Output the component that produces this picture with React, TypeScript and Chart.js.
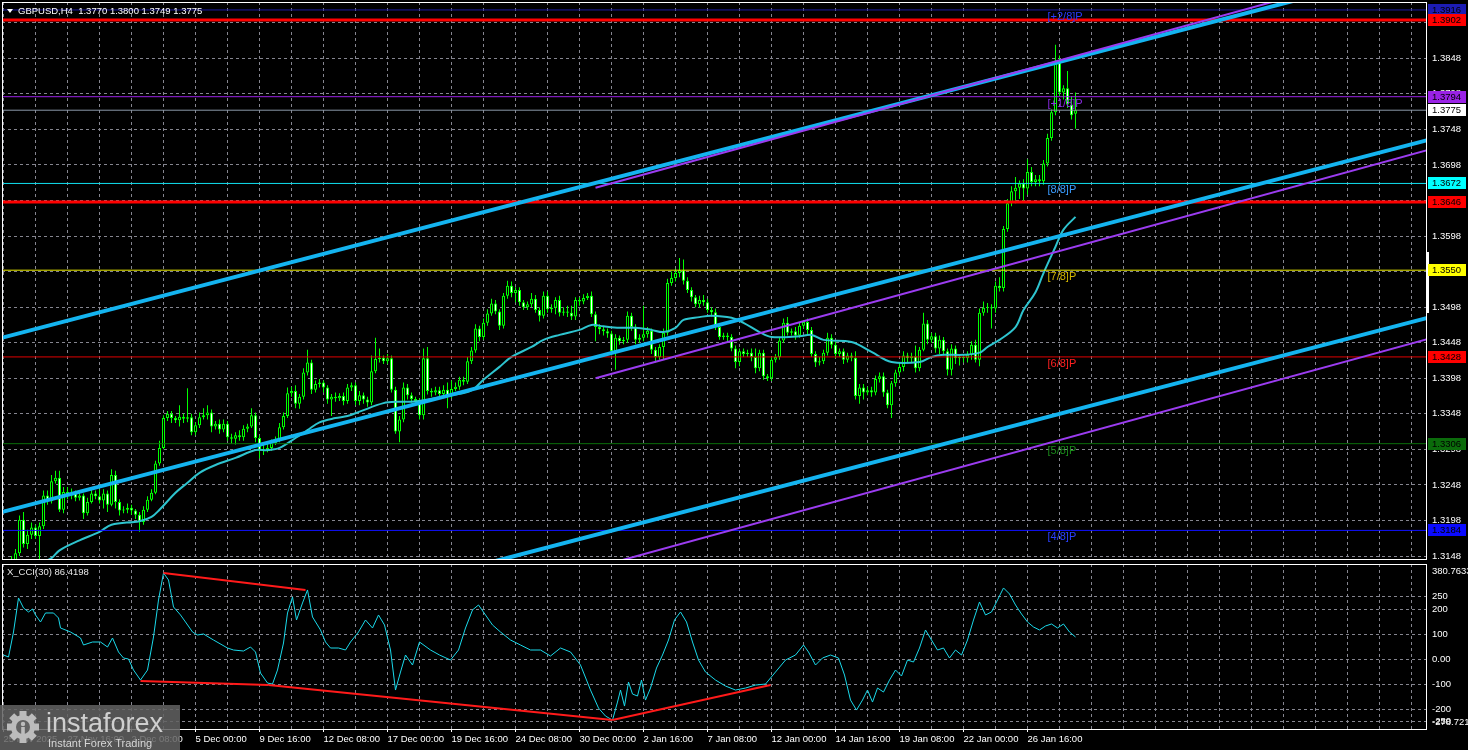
import { useEffect, useRef } from 'react';
import { Chart, registerables } from 'chart.js';

Chart.register(...registerables);

// Candle values are in pips above 1.3000 (e.g. 775 -> 1.3775)
const PRICE_BASE = 1.3;
const PIP = 0.0001;

const opens = [
  120,128,132,140,152,199,165,178,188,176,
  190,233,225,253,258,213,238,233,237,230,
  233,208,224,236,232,226,236,220,262,224,
  212,213,216,212,206,196,213,227,237,278,
  300,342,348,342,339,344,341,343,322,332,
  343,346,350,330,334,326,334,315,313,318,
  315,327,330,346,314,296,298,300,307,311,
  329,345,377,380,362,372,406,420,382,390,
  392,385,368,372,370,373,366,385,388,366,
  374,368,364,408,425,427,422,426,382,323,
  340,385,374,369,366,346,426,380,378,381,
  376,382,374,383,386,396,393,422,437,468,
  456,476,489,503,492,472,514,528,518,522,
  505,498,502,510,494,486,514,495,497,508,
  490,492,490,485,508,506,511,514,488,470,
  467,464,461,436,455,450,452,486,470,452,
  455,460,465,438,428,442,462,532,539,546,
  550,535,522,512,502,508,505,494,491,470,
  456,458,456,440,421,436,432,434,428,412,
  434,401,398,424,428,451,476,462,464,458,
  472,477,466,432,420,422,434,455,445,432,
  436,424,430,427,373,385,378,381,378,397,
  401,378,360,391,406,414,430,426,429,412,
  438,475,452,457,440,452,436,410,440,426,
  428,426,431,445,424,490,497,498,496,528,
  525,608,644,661,666,672,665,688,674,678,
  675,700,736,772,845,800,806,783,770,
];
const highs = [
  135,140,148,158,205,210,185,195,192,195,
  240,240,262,268,268,245,245,243,240,238,
  236,230,245,240,242,242,240,270,268,228,
  218,222,220,214,210,218,232,242,282,310,
  346,352,352,345,360,348,384,348,336,350,
  356,360,354,338,340,340,338,320,322,325,
  332,334,356,350,318,305,306,312,316,335,
  350,385,386,388,376,412,438,424,395,397,
  395,388,376,378,377,378,390,392,392,380,
  378,372,430,455,440,430,432,430,386,345,
  392,390,378,372,370,440,442,384,386,386,
  388,392,395,392,400,400,428,442,474,472,
  482,495,510,508,495,518,535,534,526,526,
  508,506,518,515,498,520,520,502,512,514,
  498,500,500,512,512,516,518,520,492,474,
  470,468,465,460,458,456,492,490,474,460,
  500,470,468,442,446,468,538,548,552,567,
  565,540,526,515,514,515,510,498,496,472,
  462,462,460,444,440,440,438,440,440,438,
  438,404,428,432,456,482,484,468,470,476,
  480,482,470,436,428,438,462,460,450,440,
  440,434,434,436,390,390,386,386,402,406,
  406,382,394,410,420,436,434,434,444,442,
  490,480,462,462,458,456,440,446,444,432,
  432,436,450,452,496,506,504,502,534,540,
  612,650,668,681,676,678,706,695,684,684,
  705,742,776,867,852,810,830,795,800,
];
const lows = [
  112,120,126,135,148,160,158,172,172,142,
  186,220,222,250,210,208,228,228,225,226,
  200,205,222,228,222,215,210,218,215,205,
  208,208,206,200,182,192,210,225,235,275,
  298,338,335,335,330,335,336,318,318,328,
  340,340,322,326,320,322,310,306,305,310,
  310,322,328,308,285,290,294,296,304,308,
  326,342,372,356,355,368,402,376,378,385,
  378,362,345,365,366,360,362,380,360,360,
  362,358,360,405,420,418,418,378,320,308,
  336,368,364,360,340,340,375,372,374,372,
  370,356,370,380,382,388,390,418,434,450,
  452,472,486,488,466,468,510,512,505,500,
  494,494,498,490,478,482,490,490,488,485,
  486,484,480,480,500,502,508,484,450,460,
  458,455,430,410,445,446,448,465,446,448,
  450,455,432,420,424,425,458,528,534,540,
  530,518,506,498,497,500,490,485,466,452,
  452,450,436,412,415,428,428,422,405,408,
  396,394,394,420,424,448,458,458,452,455,
  468,460,428,414,416,418,430,440,426,428,
  418,420,422,368,362,368,374,372,374,392,
  372,356,342,386,402,408,420,420,406,408,
  436,446,448,434,432,430,402,402,418,416,
  420,420,424,420,415,486,490,468,490,520,
  520,604,640,644,650,646,656,668,668,668,
  670,696,732,768,795,790,778,762,749,
];
const closes = [
  128,132,140,152,199,165,178,188,176,190,
  233,225,253,258,213,238,233,237,230,233,
  208,224,236,232,226,236,220,262,224,212,
  213,216,212,206,196,213,227,237,278,300,
  342,348,342,339,344,341,343,322,332,343,
  346,350,330,334,326,334,315,313,318,315,
  327,330,346,314,296,298,300,307,311,329,
  345,377,380,362,372,406,420,382,390,392,
  385,368,372,370,373,366,385,388,366,374,
  368,364,408,425,427,422,426,382,323,340,
  385,374,369,366,346,426,380,378,381,376,
  382,374,383,386,396,393,422,437,468,456,
  476,489,503,492,472,514,528,518,522,505,
  498,502,510,494,486,514,495,497,508,490,
  492,490,485,508,506,511,514,488,470,467,
  464,461,436,455,450,452,486,470,452,455,
  460,465,438,428,442,462,532,539,546,550,
  535,522,512,502,508,505,494,491,470,456,
  458,456,440,421,436,432,434,428,412,434,
  401,398,424,428,451,476,462,464,458,472,
  477,466,432,420,422,434,455,445,432,436,
  424,430,427,373,385,378,381,378,397,401,
  378,360,391,406,414,430,426,429,412,438,
  475,452,457,440,452,436,410,440,426,428,
  426,431,445,424,490,497,498,496,528,525,
  608,644,661,666,672,665,688,674,678,675,
  700,736,772,845,800,806,783,768,775,
];

// Moving average: [bar index, pips above 1.3000]
const maPoints = [
  [8,135],[12,145],[14,156],[19,170],[24,182],[27,192],[34,197],[37,203],[39,213],[43,237],
  [46,251],[49,265],[53,276],[58,286],[63,297],[66,297],[69,300],[73,314],[76,325],[79,336],
  [83,342],[86,345],[89,351],[95,363],[99,365],[102,365],[105,367],[112,374],[117,381],[120,396],
  [124,414],[127,428],[132,442],[135,452],[139,459],[144,466],[147,473],[150,471],[154,469],[158,469],
  [162,466],[165,463],[168,469],[170,480],[174,484],[177,486],[182,483],[185,476],[189,463],[192,456],
  [199,457],[202,459],[205,452],[212,449],[217,435],[222,421],[229,421],[232,428],[235,431],[240,431],
  [244,434],[246,442],[249,452],[253,470],[255,494],[258,519],[260,546],[263,583],[265,607],[268,625],
];

// CCI(30): [bar index, value]
const cciPoints = [
  [0,17],[1.25,9],[2.5,109],[3.75,245],[5,205],[6.25,189],[7.25,201],[8,177],[9.25,149],[10.5,185],
  [12.5,185],[13.75,165],[14.25,125],[16.75,109],[19.25,85],[20,57],[22.25,69],[24.25,69],[26,49],[27.25,85],
  [28.75,29],[30,5],[31.25,1],[32.5,-43],[34.25,-83],[36,-43],[37.5,89],[38.75,237],[40,345],[41.25,317],
  [42.5,209],[44.25,177],[45.5,149],[47.25,109],[48.5,97],[50,101],[52.5,77],[56,45],[57.5,37],[60,33],
  [61.75,49],[63,29],[64.25,-55],[66,-95],[67.25,-99],[68.5,-43],[70,65],[71,185],[72.25,249],[73.25,157],
  [74.75,225],[76,277],[77.25,169],[79.25,117],[80.5,69],[81.75,45],[83.75,45],[85.5,37],[86.75,69],[88.75,109],
  [90.5,157],[92.25,125],[93.75,177],[95.25,137],[96.75,37],[98,-123],[99.25,-51],[100.5,17],[102.25,-23],[104,69],
  [106.75,37],[109,17],[111.75,-3],[113.75,37],[115.5,125],[117.25,197],[118.75,217],[120.5,177],[122.25,137],[124.25,109],
  [126.75,77],[129.25,57],[131.75,37],[134.25,37],[136.75,13],[139.25,45],[141.75,29],[144.25,-23],[146.75,-123],[148.75,-195],
  [150.5,-227],[152.25,-243],[153.5,-171],[154.25,-123],[155.25,-187],[156.25,-91],[157.25,-139],[158.5,-147],[159.5,-83],[160.5,-163],
  [161.75,-115],[163.25,-35],[164.75,17],[166.25,77],[167.75,157],[169.25,189],[170.75,149],[172.25,69],[173.75,-3],[175.5,-51],
  [178,-83],[180.5,-107],[183,-123],[185.5,-115],[188,-103],[190.5,-99],[193,-51],[195.5,-3],[198,17],[200,57],
  [201.25,29],[203,-23],[204.75,5],[206.75,17],[208.75,5],[210.25,-63],[211.75,-163],[213.25,-203],[214.75,-163],[216,-123],
  [217.25,-171],[218.5,-115],[220,-131],[221.5,-83],[223,-43],[224.5,-67],[226,-3],[227.5,-11],[229,45],[230.5,117],
  [232,77],[233.5,37],[235,45],[236.5,5],[238,37],[239.5,17],[241,77],[242.5,157],[244,229],[245.5,177],
  [247,189],[248.5,237],[250,285],[251.5,261],[253,217],[254.5,181],[256,149],[257.5,129],[259,117],[260.5,133],
  [262,141],[263.5,125],[265,141],[266.5,109],[268,89],
];

const xTickLabels = [
  '25 Nov 2025','27 Nov 16:00','2 Dec 08:00','5 Dec 00:00','9 Dec 16:00','12 Dec 08:00',
  '17 Dec 00:00','19 Dec 16:00','24 Dec 08:00','30 Dec 00:00','2 Jan 16:00','7 Jan 08:00',
  '12 Jan 00:00','14 Jan 16:00','19 Jan 08:00','22 Jan 00:00','26 Jan 16:00',
];
const priceTicks = [
  1.3148,1.3198,1.3248,1.3298,1.3348,1.3398,1.3448,1.3498,
  1.3548,1.3598,1.3648,1.3698,1.3748,1.3798,1.3848,1.3898,
];
const cciTicks = [250, 200, 100, 0, -100, -200, -250];
const CCI_MAX = 380.7633;
const CCI_MIN = -278.7219;

const levelPrices = [1.3916, 1.3902, 1.3794, 1.3775, 1.3672, 1.3646, 1.3550, 1.3428, 1.3306, 1.3184];
const murreyLabels = ['[+2/8]P', '[+1/8]P', '[8/8]P', '[7/8]P', '[6/8]P', '[5/8]P', '[4/8]P'];
const murreyPrices = [1.3916, 1.3794, 1.3672, 1.3550, 1.3428, 1.3306, 1.3184];

// trend lines: [[bar, pips], [bar, pips]]
const blueChannels = [
  [[-1, 454], [356, 978]],
  [[-1, 209], [356, 733]],
  [[-1, -41], [356, 483]],
];
const purpleLines = [
  [[148, 666], [330, 947]],
  [[148, 398], [356, 719]],
  [[148, 132], [356, 453]],
];
// CCI trend lines: [[bar, cci], [bar, cci]]
const cciTrendLines = [
  [[40, 345], [75.5, 277]],
  [[34.25, -87], [66.25, -103]],
  [[66.25, -103], [152.25, -243]],
  [[152.25, -243], [191.75, -103]],
];

const HEADER = 'GBPUSD,H4  1.3770 1.3800 1.3749 1.3775';
const CCI_TITLE = 'X_CCI(30) 86.4198';

// ---------- styles ----------
const FONT = '"Liberation Sans", Arial, sans-serif';
const GRID = '#85858f';
const LIME = '#00ff00';
const X_MIN = -0.375;
const X_MAX = 355.625;
const Y_MIN = 1.31438;
const Y_MAX = 1.39272;
const MURREY_LABEL_BAR = 261;
const LEVEL_STYLES = [
  { line: '#1a1aa0', w: 1, box: '#1c1cb4', text: '#000000' },
  { line: '#ff0000', w: 3, box: '#ff0000', text: '#000000' },
  { line: '#9a22e6', w: 1, box: '#9a22e6', text: '#000000' },
  { line: '#8a98a8', w: 1, box: '#ffffff', text: '#000000' },
  { line: '#10e0f0', w: 1, box: '#00ffff', text: '#000000' },
  { line: '#ff0000', w: 3, box: '#ff0000', text: '#000000' },
  { line: '#f0f000', w: 1, box: '#ffff00', text: '#000000' },
  { line: '#e00000', w: 1, box: '#ff0000', text: '#000000' },
  { line: '#0a6e0a', w: 1, box: '#0b6b0b', text: '#000000' },
  { line: '#1010ff', w: 1, box: '#0a0aff', text: '#000000' },
];
const MURREY_COLORS = ['#2a3cff', '#8a2be2', '#3a9cff', '#d2b400', '#ff2020', '#1a8a1a', '#2a40ff'];

const toPrice = (p: number) => PRICE_BASE + p * PIP;
const gridBars: number[] = [];
for (let v = 0; v <= 352; v += 8) gridBars.push(v);

const noPad = (s: any) => {
  s.paddingTop = 0;
  s.paddingBottom = 0;
  s.paddingLeft = 0;
  s.paddingRight = 0;
};

const mainOverlay = {
  id: 'mainOverlay',
  afterDraw(chart: any) {
    const { ctx, chartArea: a, scales } = chart;
    const x = scales.x;
    const y = scales.y;
    ctx.save();
    ctx.font = `11px ${FONT}`;
    ctx.textAlign = 'left';
    ctx.textBaseline = 'middle';
    murreyLabels.forEach((t, k) => {
      ctx.fillStyle = MURREY_COLORS[k];
      ctx.fillText(t, x.getPixelForValue(MURREY_LABEL_BAR), y.getPixelForValue(murreyPrices[k]) + 7);
    });
    ctx.strokeStyle = '#ffffff';
    ctx.lineWidth = 1;
    ctx.strokeRect(a.left + 0.5, a.top + 0.5, a.right - a.left, a.bottom - a.top);
    ctx.fillStyle = '#ffffff';
    ctx.fillRect(a.right, 252, 3, 61);
    ctx.font = `9.5px ${FONT}`;
    levelPrices.forEach((p, k) => {
      const py = Math.round(y.getPixelForValue(p));
      const top = Math.max(py - 6, 1);
      ctx.fillStyle = LEVEL_STYLES[k].box;
      ctx.fillRect(a.right + 2, top, 38, 12);
      ctx.fillStyle = LEVEL_STYLES[k].text;
      ctx.fillText(p.toFixed(4), a.right + 6, top + 6.5);
    });
    ctx.fillStyle = '#ffffff';
    ctx.beginPath();
    ctx.moveTo(7, 9);
    ctx.lineTo(13, 9);
    ctx.lineTo(10, 13);
    ctx.closePath();
    ctx.fill();
    ctx.font = `9.5px ${FONT}`;
    ctx.fillText(HEADER, 18, 11);
    ctx.restore();
  },
};

const cciOverlay = {
  id: 'cciOverlay',
  afterDraw(chart: any) {
    const { ctx, chartArea: a } = chart;
    ctx.save();
    ctx.strokeStyle = '#ffffff';
    ctx.lineWidth = 1;
    ctx.strokeRect(a.left + 0.5, a.top + 0.5, a.right - a.left, a.bottom - a.top);
    ctx.font = `9.5px ${FONT}`;
    ctx.textAlign = 'left';
    ctx.textBaseline = 'middle';
    ctx.fillStyle = '#e6e6e6';
    ctx.fillText(CCI_TITLE, 7, 10);
    ctx.fillStyle = '#ffffff';
    ctx.fillText(CCI_MAX.toFixed(4), a.right + 6, 9);
    ctx.fillText(CCI_MIN.toFixed(4), a.right + 6, 160);
    // logo
    ctx.fillStyle = 'rgba(98,98,98,0.86)';
    ctx.fillRect(0, 143, 180, 45);
    const cx = 23, cy = 165;
    ctx.fillStyle = '#bcbcbc';
    for (let k = 0; k < 8; k++) {
      ctx.save();
      ctx.translate(cx, cy);
      ctx.rotate((k * Math.PI) / 4);
      ctx.fillRect(-3.5, -16, 7, 8);
      ctx.restore();
    }
    ctx.beginPath();
    ctx.arc(cx, cy, 12, 0, Math.PI * 2);
    ctx.fill();
    ctx.fillStyle = '#626262';
    ctx.beginPath();
    ctx.arc(cx, cy, 7, 0, Math.PI * 2);
    ctx.fill();
    ctx.fillStyle = '#bcbcbc';
    ctx.beginPath();
    ctx.arc(cx, cy - 3, 2.2, 0, Math.PI * 2);
    ctx.fill();
    ctx.fillRect(cx - 1.8, cy, 3.6, 9);
    ctx.fillStyle = '#cfcfcf';
    ctx.font = `27px ${FONT}`;
    ctx.textBaseline = 'alphabetic';
    ctx.fillText('instaforex', 46, 170);
    ctx.font = `11px ${FONT}`;
    ctx.fillStyle = '#d6d6d6';
    ctx.fillText('Instant Forex Trading', 48, 185);
    ctx.restore();
  },
};

const lineDs = (pts: number[][], color: string, width: number, order: number, conv: (v: number) => number) => ({
  type: 'line',
  data: pts.map((p) => ({ x: p[0], y: conv(p[1]) })),
  borderColor: color,
  backgroundColor: color,
  borderWidth: width,
  pointRadius: 0,
  tension: 0,
  fill: false,
  clip: 0,
  order,
});

export default function App() {
  const mainRef = useRef<HTMLCanvasElement>(null);
  const cciRef = useRef<HTMLCanvasElement>(null);

  useEffect(() => {
    document.body.style.margin = '0';
    document.body.style.background = '#000';
    const bars = closes.map((_, i) => i);
    const priceScaleX = {
      type: 'linear',
      min: X_MIN,
      max: X_MAX,
      offset: false,
      afterBuildTicks: (s: any) => {
        s.ticks = gridBars.map((v) => ({ value: v }));
      },
    };

    const datasets: any[] = [];
    levelPrices.forEach((p, k) => {
      datasets.push(lineDs([[X_MIN - 1, p], [X_MAX + 1, p]], LEVEL_STYLES[k].line, LEVEL_STYLES[k].w, 20, (v) => v));
    });
    datasets.push({
      type: 'bar',
      data: bars.map((i) => ({ x: i, y: [toPrice(lows[i]), toPrice(highs[i])] })),
      backgroundColor: LIME,
      borderWidth: 0,
      barThickness: 1,
      grouped: false,
      inflateAmount: 0,
      clip: 0,
      order: 40,
    });
    datasets.push({
      type: 'bar',
      data: bars.map((i) => ({ x: i, y: [toPrice(opens[i]), toPrice(closes[i])] })),
      backgroundColor: bars.map((i) => (closes[i] >= opens[i] ? '#000000' : '#ffffff')),
      borderColor: LIME,
      borderWidth: 1,
      borderSkipped: false,
      barThickness: 3,
      minBarLength: 1,
      grouped: false,
      inflateAmount: 0,
      clip: 0,
      order: 30,
    });
    datasets.push({ ...lineDs(maPoints, '#2ec4cf', 2, 25, toPrice), tension: 0.35 });
    blueChannels.forEach((l) => datasets.push(lineDs(l, '#14b4f0', 4, 10, toPrice)));
    purpleLines.forEach((l) => datasets.push(lineDs(l, '#9b3cf0', 2, 5, toPrice)));

    const main = new Chart(mainRef.current as HTMLCanvasElement, {
      type: 'line',
      data: { datasets },
      options: {
        animation: false,
        responsive: false,
        maintainAspectRatio: false,
        devicePixelRatio: 1,
        events: [],
        layout: { padding: { left: 2, top: 2, right: 0, bottom: 3 } },
        plugins: { legend: { display: false }, tooltip: { enabled: false } },
        scales: {
          x: {
            ...priceScaleX,
            afterFit: (s: any) => {
              s.height = 0;
              noPad(s);
            },
            ticks: { display: false },
            grid: { color: GRID, drawTicks: false, offset: false },
            border: { display: false, dash: [3, 3] },
          },
          y: {
            type: 'linear',
            position: 'right',
            min: Y_MIN,
            max: Y_MAX,
            afterBuildTicks: (s: any) => {
              s.ticks = priceTicks.map((v) => ({ value: v }));
            },
            afterFit: (s: any) => {
              s.width = 42;
              noPad(s);
            },
            ticks: {
              color: '#ffffff',
              autoSkip: false,
              padding: 6,
              font: { family: FONT, size: 9.5 },
              callback: (v: any) => Number(v).toFixed(4),
            },
            grid: { color: GRID, drawTicks: false },
            border: { display: false, dash: [3, 3] },
          },
        },
      } as any,
      plugins: [mainOverlay],
    } as any);

    const cciDatasets: any[] = [];
    cciDatasets.push(lineDs(cciPoints, '#1ad9ea', 1, 10, (v) => v));
    cciTrendLines.forEach((l) => cciDatasets.push(lineDs(l, '#ff1a1a', 2, 1, (v) => v)));

    const cci = new Chart(cciRef.current as HTMLCanvasElement, {
      type: 'line',
      data: { datasets: cciDatasets },
      options: {
        animation: false,
        responsive: false,
        maintainAspectRatio: false,
        devicePixelRatio: 1,
        events: [],
        layout: { padding: { left: 2, top: 2, right: 0, bottom: 0 } },
        plugins: { legend: { display: false }, tooltip: { enabled: false } },
        scales: {
          x: {
            ...priceScaleX,
            afterFit: (s: any) => {
              s.height = 21;
              noPad(s);
            },
            ticks: {
              color: '#ffffff',
              align: 'start',
              autoSkip: false,
              maxRotation: 0,
              minRotation: 0,
              padding: 2,
              font: { family: FONT, size: 9.5 },
              callback: (v: any) => {
                const n = Number(v);
                return n % 16 === 0 && n / 16 < xTickLabels.length ? xTickLabels[n / 16] : '';
              },
            },
            grid: {
              color: GRID,
              drawTicks: true,
              tickLength: 3,
              offset: false,
              tickColor: (c: any) =>
                c.tick && c.tick.value % 16 === 0 && c.tick.value / 16 < xTickLabels.length ? '#ffffff' : 'rgba(0,0,0,0)',
            },
            border: { display: false, dash: [3, 3] },
          },
          y: {
            type: 'linear',
            position: 'right',
            min: CCI_MIN,
            max: CCI_MAX,
            afterBuildTicks: (s: any) => {
              s.ticks = cciTicks.map((v) => ({ value: v }));
            },
            afterFit: (s: any) => {
              s.width = 42;
              noPad(s);
            },
            ticks: {
              color: '#ffffff',
              autoSkip: false,
              padding: 6,
              font: { family: FONT, size: 9.5 },
              callback: (v: any) => (Number(v) === 0 ? '0.00' : String(v)),
            },
            grid: { color: GRID, drawTicks: false },
            border: { display: false, dash: [3, 3] },
          },
        },
      } as any,
      plugins: [cciOverlay],
    } as any);

    return () => {
      main.destroy();
      cci.destroy();
    };
  }, []);

  return (
    <div style={{ position: 'relative', width: 1468, height: 750, background: '#000', overflow: 'hidden' }}>
      <canvas
        ref={mainRef}
        width={1468}
        height={562}
        style={{ position: 'absolute', left: 0, top: 0, width: 1468, height: 562 }}
      />
      <canvas
        ref={cciRef}
        width={1468}
        height={188}
        style={{ position: 'absolute', left: 0, top: 562, width: 1468, height: 188 }}
      />
    </div>
  );
}
